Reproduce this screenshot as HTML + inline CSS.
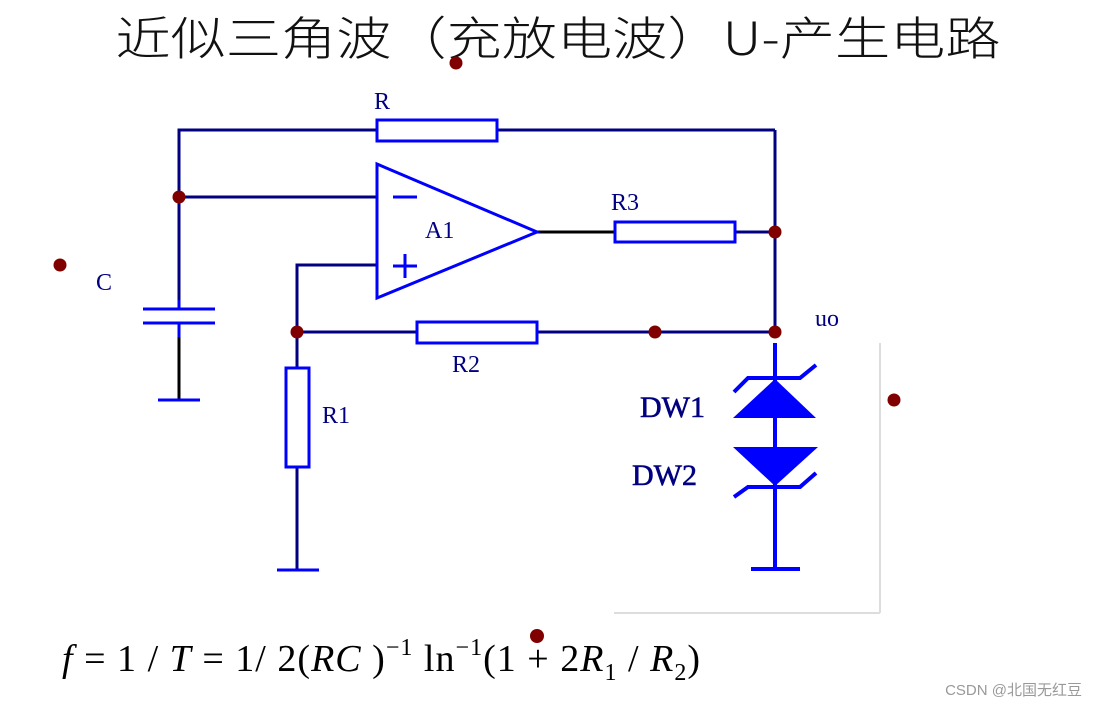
<!DOCTYPE html>
<html><head><meta charset="utf-8"><style>
html,body{margin:0;padding:0;background:#fff;}
svg{display:block;}
</style></head><body>
<svg width="1096" height="707" viewBox="0 0 1096 707" xmlns="http://www.w3.org/2000/svg">
<text x="558" y="55" text-anchor="middle" font-family="'Noto Sans CJK SC',sans-serif" font-weight="300" font-size="46" fill="#111" textLength="885" lengthAdjust="spacingAndGlyphs">近似三角波（充放电波）U-产生电路</text>
<g stroke="#000080" stroke-width="3" fill="none">
<polyline points="179,305 179,130 377,130"/>
<line x1="497" y1="130" x2="775" y2="130"/>
<line x1="775" y1="130" x2="775" y2="332"/>
<line x1="179" y1="197" x2="377" y2="197"/>
<line x1="537" y1="232" x2="615" y2="232" stroke="#000"/>
<line x1="735" y1="232" x2="775" y2="232"/>
<polyline points="377,265 297,265 297,368"/>
<line x1="297" y1="467" x2="297" y2="570"/>
<line x1="297" y1="332" x2="417" y2="332"/>
<line x1="537" y1="332" x2="775" y2="332"/>
<line x1="179" y1="337" x2="179" y2="400" stroke="#000"/>
</g>
<g stroke="#0000ff" stroke-width="3" fill="none">
<rect x="377" y="120" width="120" height="21"/>
<rect x="615" y="222" width="120" height="20"/>
<rect x="417" y="322" width="120" height="21"/>
<rect x="286" y="368" width="23" height="99"/>
<polygon points="377,164 377,298 537,232"/>
<line x1="393" y1="197" x2="417" y2="197"/>
<line x1="393" y1="266" x2="417" y2="266"/>
<line x1="405" y1="254" x2="405" y2="278"/>
<line x1="143" y1="309" x2="215" y2="309"/>
<line x1="143" y1="323" x2="215" y2="323"/>
<line x1="179" y1="300" x2="179" y2="309"/>
<line x1="179" y1="323" x2="179" y2="337"/>
<line x1="158" y1="400" x2="200" y2="400"/>
<line x1="277" y1="570" x2="319" y2="570"/>
<line x1="775" y1="343" x2="775" y2="570" stroke-width="4"/>
<line x1="751" y1="569" x2="800" y2="569" stroke-width="4"/>
<polyline points="734,392 748,378 800,378 816,365" stroke-width="4"/>
<polyline points="734,497 748,487 800,487 816,473" stroke-width="4"/>
</g>
<polygon points="775,379 733,418 816,418" fill="#0000ff"/>
<polygon points="733,447 818,447 775,486" fill="#0000ff"/>
<line x1="880" y1="343" x2="880" y2="613" stroke="#ddd" stroke-width="2"/>
<line x1="614" y1="613" x2="880" y2="613" stroke="#ddd" stroke-width="2"/>
<g fill="#800000">
<circle cx="179" cy="197" r="6.5"/>
<circle cx="775" cy="232" r="6.5"/>
<circle cx="297" cy="332" r="6.5"/>
<circle cx="655" cy="332" r="6.5"/>
<circle cx="775" cy="332" r="6.5"/>
<circle cx="60" cy="265" r="6.5"/>
<circle cx="456" cy="63" r="6.5"/>
<circle cx="894" cy="400" r="6.5"/>
</g>
<g font-family="'Liberation Serif',serif" font-size="24" fill="#000080">
<text x="374" y="109">R</text>
<text x="611" y="210">R3</text>
<text x="425" y="238">A1</text>
<text x="96" y="290">C</text>
<text x="452" y="372">R2</text>
<text x="322" y="423">R1</text>
<text x="815" y="326">uo</text>
<text x="640" y="417" font-size="30" stroke="#000080" stroke-width="0.6">DW1</text>
<text x="632" y="485" font-size="30" stroke="#000080" stroke-width="0.6">DW2</text>
</g>
<text x="62" y="671" font-family="'Liberation Serif',serif" font-size="38" fill="#000" textLength="638" lengthAdjust="spacing">
<tspan font-style="italic">f</tspan> = 1 / <tspan font-style="italic">T</tspan> = 1/ 2(<tspan font-style="italic">RC</tspan> )<tspan font-size="24" dy="-16">−1</tspan><tspan dy="16"> ln</tspan><tspan font-size="24" dy="-16">−1</tspan><tspan dy="16">(1 + 2</tspan><tspan font-style="italic">R</tspan><tspan font-size="24" dy="9">1</tspan><tspan dy="-9"> / </tspan><tspan font-style="italic">R</tspan><tspan font-size="24" dy="9">2</tspan><tspan dy="-9">)</tspan>
</text>
<circle cx="537" cy="636" r="7" fill="#800000"/>
<text x="1082" y="695" text-anchor="end" font-family="'Liberation Sans','Noto Sans CJK SC',sans-serif" font-size="15" fill="#999">CSDN @北国无红豆</text>
</svg>
</body></html>
